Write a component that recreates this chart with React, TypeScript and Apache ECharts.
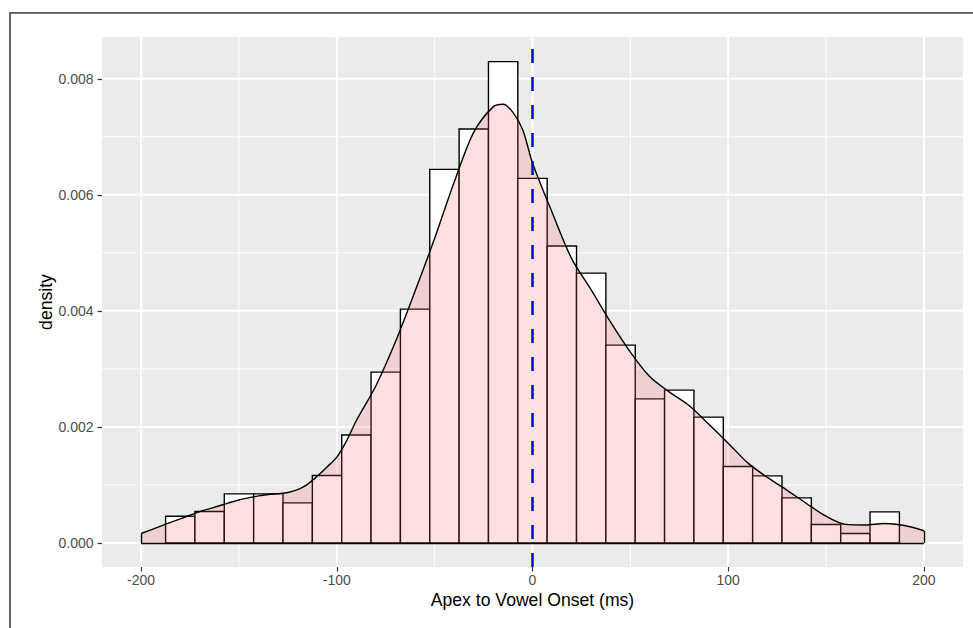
import React, { useEffect, useRef } from "react";
import * as echarts from "echarts";

// Histogram bins (binwidth 15, centred on multiples of 15)
const binCenters = [-180, -165, -150, -135, -120, -105, -90, -75, -60, -45, -30, -15, 0, 15, 30, 45, 60, 75, 90, 105, 120, 135, 150, 165, 180];
const binDensity = [0.00046, 0.000541, 0.000845, 0.000845, 0.00069, 0.001162, 0.00186, 0.002944, 0.00403, 0.006439, 0.007134, 0.008295, 0.006284, 0.005117, 0.004651, 0.003409, 0.002483, 0.002633, 0.002168, 0.001317, 0.001156, 0.000776, 0.000317, 0.000162, 0.000535];
const binWidth = 15;

// Kernel density estimate
const densX = [-200, -190, -180, -170, -160, -150, -140, -135, -130, -125, -120, -115, -110, -105, -100, -95, -90, -80, -70, -60, -50, -40, -30, -20, -15, -10, -5, 0, 10, 20, 30, 40, 50, 60, 70, 80, 90, 100, 110, 120, 130, 140, 150, 160, 170, 180, 190, 200];
const densY = [0.000162, 0.00029, 0.000415, 0.00054, 0.00064, 0.00074, 0.00081, 0.000835, 0.00085, 0.00087, 0.00092, 0.00101, 0.00115, 0.00131, 0.00148, 0.00176, 0.00211, 0.00271, 0.00347, 0.00434, 0.00525, 0.00622, 0.00708, 0.00752, 0.00756, 0.00742, 0.00712, 0.00655, 0.0057, 0.0049, 0.00436, 0.0038, 0.00329, 0.002863, 0.0026, 0.00237, 0.00205, 0.00172, 0.00138, 0.00113, 0.00091, 0.00068, 0.00046, 0.00032, 0.00031, 0.000335, 0.0003, 0.00021];

const vlineX = [0];

const xTicks = [-200, -100, 0, 100, 200];
const xMinor = [-150, -50, 50, 150];
const yTicks = [0, 0.002, 0.004, 0.006, 0.008];
const yMinor = [0.001, 0.003, 0.005, 0.007];

const X_MIN = -220;
const X_MAX = 220;
const Y_MIN = -0.000415;
const Y_MAX = 0.00872;

const FONT = "'Liberation Sans', Arial, Helvetica, sans-serif";

export default function App() {
  const ref = useRef<HTMLDivElement>(null);

  useEffect(() => {
    if (!ref.current) return;
    const chart = echarts.init(ref.current, undefined, { renderer: "svg" });

    const gridData: number[][] = [
      ...xTicks.map((v) => [0, v, 1]),
      ...xMinor.map((v) => [0, v, 0]),
      ...yTicks.map((v) => [1, v, 1]),
      ...yMinor.map((v) => [1, v, 0]),
    ];

    const option: any = {
      animation: false,
      grid: {
        left: 102,
        top: 37,
        width: 861,
        height: 530,
        show: true,
        backgroundColor: "#EBEBEB",
        borderWidth: 0,
      },
      xAxis: {
        type: "value",
        min: X_MIN,
        max: X_MAX,
        axisLine: { show: false, onZero: false },
        splitLine: { show: false },
        axisTick: {
          show: true,
          customValues: xTicks,
          length: 4.5,
          lineStyle: { color: "#333333", width: 1.2 },
        },
        axisLabel: {
          customValues: xTicks,
          fontSize: 14,
          fontFamily: FONT,
          color: "#4D4D4D",
          margin: 6,
        },
      },
      yAxis: {
        type: "value",
        min: Y_MIN,
        max: Y_MAX,
        axisLine: { show: false, onZero: false },
        splitLine: { show: false },
        axisTick: {
          show: true,
          customValues: yTicks,
          length: 4.5,
          lineStyle: { color: "#333333", width: 1.2 },
        },
        axisLabel: {
          customValues: yTicks,
          fontSize: 14,
          fontFamily: FONT,
          color: "#4D4D4D",
          margin: 8.5,
          formatter: (v: number) => v.toFixed(3),
        },
      },
      graphic: [
        {
          type: "rect",
          shape: { x: 10, y: 12.8, width: 1200, height: 1200 },
          style: { fill: "none", stroke: "#555555", lineWidth: 1.8 },
          silent: true,
        },
        {
          type: "text",
          x: 532.5,
          y: 600,
          style: {
            text: "Apex to Vowel Onset (ms)",
            font: `17.6px ${FONT}`,
            fill: "#000000",
            textAlign: "center",
            textVerticalAlign: "middle",
          },
        },
        {
          type: "text",
          x: 46,
          y: 302,
          rotation: Math.PI / 2,
          style: {
            text: "density",
            font: `17.6px ${FONT}`,
            fill: "#000000",
            textAlign: "center",
            textVerticalAlign: "middle",
          },
        },
      ],
      series: [
        {
          type: "custom",
          z: 1,
          silent: true,
          data: gridData,
          renderItem: (params: any, api: any) => {
            const cs = params.coordSys;
            const dir = api.value(0);
            const v = api.value(1);
            const major = api.value(2);
            const lw = major ? 2 : 1;
            if (dir === 0) {
              const p = api.coord([v, 0]);
              return {
                type: "line",
                shape: { x1: p[0], y1: cs.y, x2: p[0], y2: cs.y + cs.height },
                style: { stroke: "#FFFFFF", lineWidth: lw },
              };
            }
            const p = api.coord([0, v]);
            return {
              type: "line",
              shape: { x1: cs.x, y1: p[1], x2: cs.x + cs.width, y2: p[1] },
              style: { stroke: "#FFFFFF", lineWidth: lw },
            };
          },
        },
        {
          type: "custom",
          z: 2,
          silent: true,
          data: binCenters.map((c, i) => [c, binDensity[i]]),
          renderItem: (params: any, api: any) => {
            const c = api.value(0);
            const d = api.value(1);
            const p0 = api.coord([c - binWidth / 2, d]);
            const p1 = api.coord([c + binWidth / 2, 0]);
            return {
              type: "rect",
              shape: { x: p0[0], y: p0[1], width: p1[0] - p0[0], height: p1[1] - p0[1] },
              style: { fill: "#FFFFFF", stroke: "#000000", lineWidth: 1.4 },
            };
          },
        },
        {
          type: "line",
          z: 3,
          silent: true,
          data: densX.map((x, i) => [x, densY[i]]),
          smooth: 0.3,
          showSymbol: false,
          symbol: "none",
          lineStyle: { color: "#000000", width: 1.4 },
          areaStyle: { color: "rgba(255,102,102,0.2)", opacity: 1, origin: "auto" },
          markLine: {
            silent: true,
            symbol: ["none", "none"],
            label: { show: false },
            lineStyle: { color: "#000000", width: 1.4, type: "solid" },
            data: [
              [{ coord: [densX[0], 0] }, { coord: [densX[0], densY[0]] }],
              [{ coord: [densX[densX.length - 1], 0] }, { coord: [densX[densX.length - 1], densY[densY.length - 1]] }],
              [{ coord: [densX[0], 0] }, { coord: [densX[densX.length - 1], 0] }],
            ],
          },
        },
        {
          type: "custom",
          z: 4,
          silent: true,
          data: vlineX.map((x) => [x, 0]),
          renderItem: (params: any, api: any) => {
            const x = api.value(0);
            const pb = api.coord([x, Y_MIN]);
            const pt = api.coord([x, Y_MAX]);
            return {
              type: "line",
              shape: { x1: pb[0], y1: pb[1], x2: pt[0], y2: pt[1] },
              style: { stroke: "#0000FF", lineWidth: 2.5, lineDash: [14, 14] },
            };
          },
        },
      ],
    };

    chart.setOption(option);
    return () => chart.dispose();
  }, []);

  return (
    <div
      ref={ref}
      style={{ position: "fixed", left: 0, top: 0, width: 973, height: 628, background: "#FFFFFF" }}
    />
  );
}
